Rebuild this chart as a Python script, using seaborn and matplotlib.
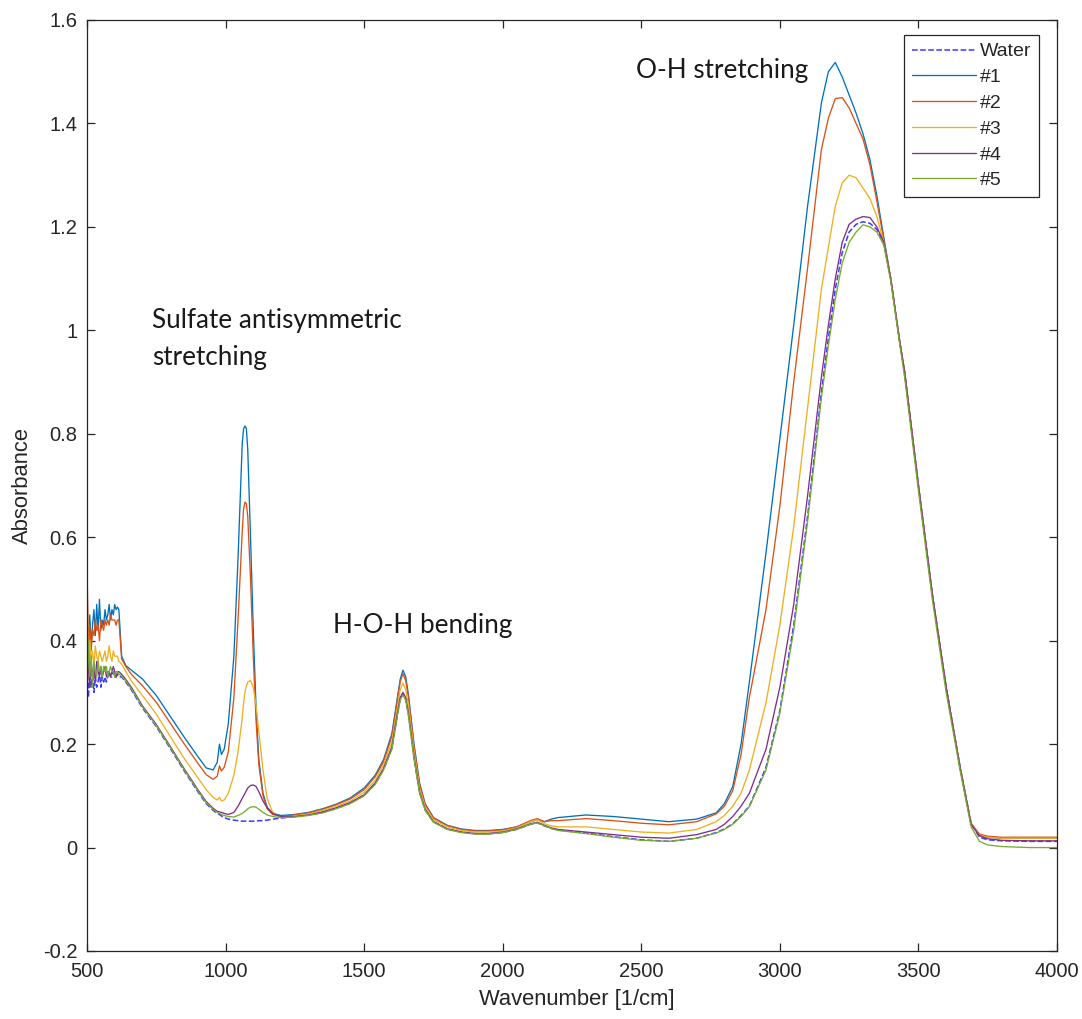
import numpy as np
import pandas as pd
import matplotlib
matplotlib.use("Agg")
import matplotlib.pyplot as plt
import seaborn as sns

# ---------------- data ----------------
wavenumber = [
    500, 505, 510, 515, 520, 525, 530, 535, 540, 545, 550, 555,
    560, 565, 570, 575, 580, 585, 590, 595, 600, 605, 610, 615,
    625, 640, 660, 700, 750, 800, 850, 900, 930, 955,
    970, 978, 985, 995, 1010, 1030, 1045, 1060, 1065, 1070, 1075, 1080,
    1090, 1100, 1110, 1120, 1135, 1150, 1170, 1200, 1250, 1300,
    1350, 1400, 1450, 1500, 1540, 1570, 1600, 1620, 1630, 1640,
    1650, 1660, 1680, 1700, 1720, 1750, 1800, 1850, 1900, 1950,
    2000, 2050, 2100, 2125, 2150, 2175, 2200, 2300, 2400, 2500,
    2600, 2700, 2770, 2800, 2830, 2860, 2890, 2950, 3000, 3050, 3100,
    3150, 3175, 3200, 3225, 3250, 3275, 3300, 3325, 3350, 3375,
    3400, 3432, 3450, 3500, 3550, 3600, 3650, 3690, 3720, 3750,
    3800, 3900, 4000,
]

water = [
    0.35, 0.29, 0.33, 0.31, 0.34, 0.30, 0.33, 0.31, 0.32, 0.34, 0.31, 0.33,
    0.32, 0.33, 0.32, 0.33, 0.34, 0.33, 0.33, 0.34, 0.33, 0.33, 0.335, 0.33,
    0.33, 0.32, 0.305, 0.27, 0.234, 0.192, 0.149, 0.108, 0.085, 0.072,
    0.066, 0.064, 0.061, 0.058, 0.055, 0.053, 0.052, 0.051, 0.051, 0.051, 0.051, 0.051,
    0.051, 0.051, 0.051, 0.052, 0.052, 0.053, 0.055, 0.057, 0.060, 0.063,
    0.068, 0.076, 0.086, 0.101, 0.123, 0.151, 0.192, 0.257, 0.287, 0.297,
    0.287, 0.257, 0.173, 0.107, 0.073, 0.050, 0.036, 0.030, 0.027, 0.027,
    0.029, 0.035, 0.045, 0.048, 0.042, 0.037, 0.034, 0.028, 0.021, 0.015,
    0.012, 0.018, 0.029, 0.036, 0.046, 0.062, 0.080, 0.155, 0.265, 0.43, 0.64,
    0.88, 0.985, 1.08, 1.15, 1.19, 1.205, 1.21, 1.207, 1.195, 1.17,
    1.10, 0.98, 0.92, 0.70, 0.49, 0.31, 0.157, 0.047, 0.020, 0.015,
    0.013, 0.012, 0.012,
]

s1 = [
    0.40, 0.36, 0.45, 0.39, 0.43, 0.46, 0.41, 0.47, 0.42, 0.48, 0.42, 0.44,
    0.43, 0.46, 0.44, 0.45, 0.47, 0.44, 0.46, 0.45, 0.47, 0.46, 0.465, 0.46,
    0.37, 0.352, 0.343, 0.326, 0.294, 0.254, 0.214, 0.176, 0.154, 0.150,
    0.165, 0.20, 0.18, 0.19, 0.24, 0.37, 0.56, 0.78, 0.81, 0.815, 0.81, 0.77,
    0.60, 0.42, 0.27, 0.17, 0.105, 0.078, 0.066, 0.062, 0.064, 0.068,
    0.075, 0.084, 0.096, 0.115, 0.14, 0.17, 0.22, 0.29, 0.325, 0.343,
    0.33, 0.295, 0.20, 0.125, 0.085, 0.058, 0.043, 0.036, 0.033, 0.033,
    0.035, 0.040, 0.050, 0.054, 0.050, 0.055, 0.058, 0.063, 0.060, 0.055,
    0.050, 0.055, 0.067, 0.085, 0.118, 0.20, 0.32, 0.57, 0.79, 1.01, 1.24,
    1.44, 1.50, 1.518, 1.49, 1.455, 1.42, 1.38, 1.33, 1.26, 1.18,
    1.10, 0.98, 0.92, 0.70, 0.49, 0.31, 0.155, 0.045, 0.024, 0.020,
    0.018, 0.018, 0.018,
]

s2 = [
    0.54, 0.40, 0.43, 0.38, 0.42, 0.41, 0.44, 0.42, 0.43, 0.40, 0.44, 0.43,
    0.42, 0.44, 0.43, 0.44, 0.43, 0.45, 0.44, 0.44, 0.44, 0.43, 0.44, 0.44,
    0.365, 0.35, 0.335, 0.313, 0.281, 0.241, 0.201, 0.163, 0.141, 0.132,
    0.138, 0.158, 0.148, 0.155, 0.185, 0.29, 0.44, 0.61, 0.655, 0.668, 0.665, 0.64,
    0.52, 0.37, 0.245, 0.16, 0.10, 0.075, 0.064, 0.060, 0.063, 0.067,
    0.074, 0.083, 0.094, 0.112, 0.137, 0.166, 0.215, 0.285, 0.32, 0.336,
    0.323, 0.29, 0.195, 0.122, 0.083, 0.057, 0.042, 0.035, 0.032, 0.032,
    0.034, 0.040, 0.052, 0.056, 0.050, 0.052, 0.052, 0.056, 0.052, 0.047,
    0.044, 0.050, 0.065, 0.080, 0.11, 0.18, 0.29, 0.46, 0.66, 0.90, 1.12,
    1.35, 1.41, 1.448, 1.45, 1.43, 1.40, 1.37, 1.32, 1.25, 1.175,
    1.10, 0.98, 0.92, 0.70, 0.49, 0.31, 0.157, 0.047, 0.026, 0.022,
    0.020, 0.020, 0.020,
]

s3 = [
    0.50, 0.33, 0.40, 0.36, 0.38, 0.35, 0.39, 0.37, 0.36, 0.38, 0.37, 0.36,
    0.37, 0.38, 0.36, 0.37, 0.39, 0.37, 0.36, 0.38, 0.37, 0.37, 0.37, 0.36,
    0.355, 0.34, 0.322, 0.294, 0.258, 0.215, 0.173, 0.135, 0.112, 0.097,
    0.092, 0.097, 0.090, 0.092, 0.105, 0.14, 0.185, 0.25, 0.28, 0.30, 0.312, 0.32,
    0.323, 0.31, 0.275, 0.225, 0.15, 0.095, 0.068, 0.058, 0.061, 0.065,
    0.072, 0.080, 0.090, 0.107, 0.13, 0.16, 0.205, 0.27, 0.305, 0.318,
    0.306, 0.275, 0.185, 0.115, 0.079, 0.054, 0.040, 0.033, 0.030, 0.030,
    0.032, 0.038, 0.050, 0.054, 0.046, 0.042, 0.040, 0.040, 0.035, 0.030,
    0.028, 0.035, 0.050, 0.062, 0.080, 0.105, 0.15, 0.28, 0.43, 0.62, 0.85,
    1.08, 1.16, 1.24, 1.285, 1.30, 1.295, 1.275, 1.255, 1.22, 1.17,
    1.10, 0.98, 0.92, 0.70, 0.49, 0.31, 0.155, 0.045, 0.024, 0.020,
    0.018, 0.018, 0.018,
]

s4 = [
    0.27, 0.38, 0.31, 0.36, 0.33, 0.35, 0.32, 0.36, 0.34, 0.33, 0.35, 0.33,
    0.34, 0.35, 0.33, 0.34, 0.34, 0.33, 0.34, 0.35, 0.34, 0.33, 0.34, 0.34,
    0.335, 0.325, 0.31, 0.274, 0.238, 0.196, 0.153, 0.112, 0.089, 0.076,
    0.070, 0.069, 0.068, 0.066, 0.064, 0.068, 0.080, 0.095, 0.100, 0.105, 0.110, 0.115,
    0.120, 0.121, 0.118, 0.108, 0.090, 0.077, 0.066, 0.060, 0.060, 0.063,
    0.069, 0.077, 0.087, 0.102, 0.125, 0.153, 0.195, 0.26, 0.29, 0.30,
    0.29, 0.26, 0.175, 0.108, 0.074, 0.050, 0.036, 0.030, 0.027, 0.027,
    0.030, 0.036, 0.046, 0.049, 0.043, 0.038, 0.035, 0.030, 0.025, 0.020,
    0.018, 0.025, 0.035, 0.045, 0.060, 0.080, 0.105, 0.19, 0.31, 0.47, 0.68,
    0.91, 1.01, 1.10, 1.17, 1.205, 1.215, 1.22, 1.218, 1.20, 1.17,
    1.10, 0.98, 0.92, 0.70, 0.49, 0.31, 0.155, 0.045, 0.023, 0.017,
    0.014, 0.013, 0.013,
]

s5 = [
    0.30, 0.40, 0.33, 0.37, 0.31, 0.36, 0.34, 0.33, 0.36, 0.34, 0.35, 0.33,
    0.35, 0.34, 0.35, 0.33, 0.34, 0.35, 0.34, 0.34, 0.33, 0.34, 0.34, 0.335,
    0.332, 0.322, 0.307, 0.272, 0.236, 0.194, 0.151, 0.110, 0.087, 0.074,
    0.068, 0.066, 0.064, 0.062, 0.060, 0.059, 0.062, 0.066, 0.068, 0.070, 0.072, 0.075,
    0.078, 0.079, 0.078, 0.074, 0.068, 0.063, 0.060, 0.058, 0.059, 0.062,
    0.067, 0.075, 0.085, 0.100, 0.122, 0.150, 0.190, 0.255, 0.285, 0.295,
    0.285, 0.255, 0.172, 0.106, 0.072, 0.049, 0.035, 0.029, 0.026, 0.026,
    0.029, 0.035, 0.045, 0.048, 0.042, 0.037, 0.033, 0.027, 0.020, 0.014,
    0.012, 0.018, 0.028, 0.035, 0.045, 0.060, 0.079, 0.15, 0.26, 0.42, 0.63,
    0.87, 0.97, 1.06, 1.13, 1.17, 1.19, 1.204, 1.20, 1.19, 1.165,
    1.095, 0.975, 0.91, 0.69, 0.48, 0.30, 0.150, 0.040, 0.012, 0.005,
    0.002, 0.000, 0.000,
]

series_names = ["Water", "#1", "#2", "#3", "#4", "#5"]
series_values = [water, s1, s2, s3, s4, s5]
series_colors = ["#3b3bff", "#0072BD", "#D95319", "#EDB120", "#7E2F8E", "#77AC30"]
series_styles = ["--", "-", "-", "-", "-", "-"]

y_ticks = [-0.2, 0, 0.2, 0.4, 0.6, 0.8, 1.0, 1.2, 1.4, 1.6]
y_tick_labels = ["-0.2", "0", "0.2", "0.4", "0.6", "0.8", "1", "1.2", "1.4", "1.6"]
x_ticks = [500, 1000, 1500, 2000, 2500, 3000, 3500, 4000]

annotations = [
    ("O-H stretching", 2480, 1.488),
    ("Sulfate antisymmetric", 734, 1.005),
    ("stretching", 734, 0.933),
    ("H-O-H bending", 1387, 0.415),
]

for v in series_values:
    assert len(v) == len(wavenumber)

# ---------------- figure ----------------
sns.set_style("ticks")
plt.rcParams["font.family"] = ["Liberation Sans", "DejaVu Sans"]

W, H = 1082, 1019
fig = plt.figure(figsize=(W / 100, H / 100), dpi=100)
ax = fig.add_axes([87 / W, 1 - 951 / H, (1057 - 87) / W, (951 - 20) / H])

df = pd.DataFrame({"wavenumber": wavenumber})
for name, vals in zip(series_names, series_values):
    df[name] = vals
long = df.melt(id_vars="wavenumber", var_name="sample", value_name="absorbance")

for name, col, ls in zip(series_names, series_colors, series_styles):
    sub = long[long["sample"] == name]
    sns.lineplot(data=sub, x="wavenumber", y="absorbance", ax=ax,
                 color=col, linestyle=ls, linewidth=1.1 if ls == "--" else 0.95,
                 estimator=None, sort=False, label=name)

ax.set_xlim(500, 4000)
ax.set_ylim(-0.2, 1.6)
ax.set_xticks(x_ticks)
ax.set_xticklabels([str(t) for t in x_ticks])
ax.set_yticks(y_ticks)
ax.set_yticklabels(y_tick_labels)

axcol = "#262626"
for sp in ax.spines.values():
    sp.set_visible(True)
    sp.set_color(axcol)
    sp.set_linewidth(0.9)
ax.tick_params(axis="both", direction="in", top=True, right=True,
               length=6, width=0.9, colors=axcol, labelsize=14.5,
               labelcolor=axcol)
ax.tick_params(axis="x", pad=8)
ax.tick_params(axis="y", pad=7)

ax.set_xlabel("Wavenumber [1/cm]", fontsize=15.8, color=axcol)
ax.set_ylabel("Absorbance", fontsize=15.8, color=axcol)
ax.xaxis.set_label_coords(0.505, -(1000 - 951) / 931)
ax.xaxis.label.set_va("center")
ax.yaxis.set_label_coords((22 - 87) / 970, 0.5)
ax.yaxis.label.set_va("center")

for txt, xx, yy in annotations:
    ax.text(xx, yy, txt, fontsize=18.8, family=["Lato", "DejaVu Sans"],
            color="#1a1a1a", ha="left", va="baseline")

handles, labels = ax.get_legend_handles_labels()
leg = ax.legend(handles, labels, loc="upper right",
                bbox_to_anchor=((1039 - 87) / 970, (951 - 35) / 931),
                borderaxespad=0, fontsize=14, frameon=True, fancybox=False,
                framealpha=1, edgecolor=axcol, handlelength=3.3,
                handletextpad=0.2, labelspacing=0.42, borderpad=0.4)
leg.get_frame().set_linewidth(0.9)
for t in leg.get_texts():
    t.set_color(axcol)

fig.savefig("out.png", dpi=100)
